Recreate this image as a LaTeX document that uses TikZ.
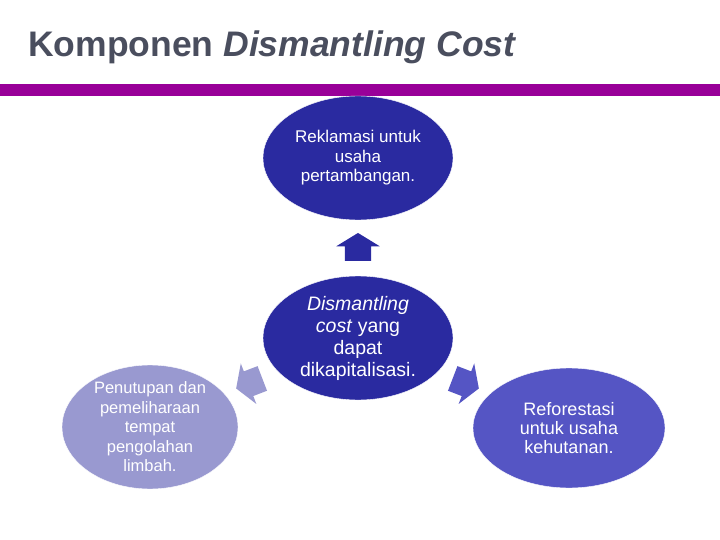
\documentclass[tikz,border=0pt]{standalone}
\usepackage{fontspec}
\setmainfont{Liberation Sans}
\usepackage{tikz}
\usetikzlibrary{shapes.geometric, shapes.arrows}
\definecolor{titlegray}{RGB}{74,78,94}
\definecolor{barpurple}{RGB}{153,0,153}
\definecolor{darkblue}{RGB}{42,42,160}
\definecolor{midblue}{RGB}{85,85,196}
\definecolor{paleblue}{RGB}{153,153,208}
\tikzstyle{lobe} = [ellipse, 
minimum width=190pt, 
minimum height=124pt, 
inner sep=-12pt, % keeps the text from growing the ellipse
align=center, 
text=white, 
draw=white, 
fill=darkblue]
\tikzstyle{blockarrow} = [single arrow, 
minimum height=28pt, 
inner xsep=0pt, 
inner ysep=13pt, 
single arrow head extend=8.5pt, 
single arrow tip angle=117, 
single arrow head indent=0pt]

\begin{document}
\begin{tikzpicture}[x=1pt, y=-1pt, node distance=180pt]
\useasboundingbox (0,0) rectangle (720,540);

\node (title) [anchor=base west, inner sep=0pt, text=titlegray, font=\fontsize{35.5}{40}\selectfont\bfseries] at (28,57) {Komponen \textit{Dismantling Cost}};
\fill [barpurple] (0,84) rectangle (720,96);

\node (mid) [lobe, font=\fontsize{19.5}{22}\selectfont] at (358,338) {\textit{Dismantling}\\\textit{cost} yang\\dapat\\dikapitalisasi.};

\node (top) [lobe, above of=mid, font=\fontsize{17}{19.5}\selectfont] {Reklamasi untuk\\usaha\\pertambangan.};

\node (waste) [lobe, below of=mid, xshift=-208pt, yshift=91pt, minimum width=176pt, fill=paleblue, font=\fontsize{16.5}{19.5}\selectfont] {Penutupan dan\\pemeliharaan\\tempat\\pengolahan\\limbah.};
\node (forest) [lobe, below of=mid, xshift=211pt, yshift=90pt, minimum width=192pt, minimum height=120pt, fill=midblue, font=\fontsize{18}{19}\selectfont] {Reforestasi\\untuk usaha\\kehutanan.};

\node (up) [blockarrow, fill=darkblue, below of=top, yshift=87pt, rotate=90] {};
\node (downleft) [blockarrow, fill=paleblue, below of=mid, xshift=-105pt, yshift=136pt, rotate=201] {};
\node (downright) [blockarrow, fill=midblue, below of=mid, xshift=104pt, yshift=136pt, rotate=-21] {};

\end{tikzpicture}
\end{document}
